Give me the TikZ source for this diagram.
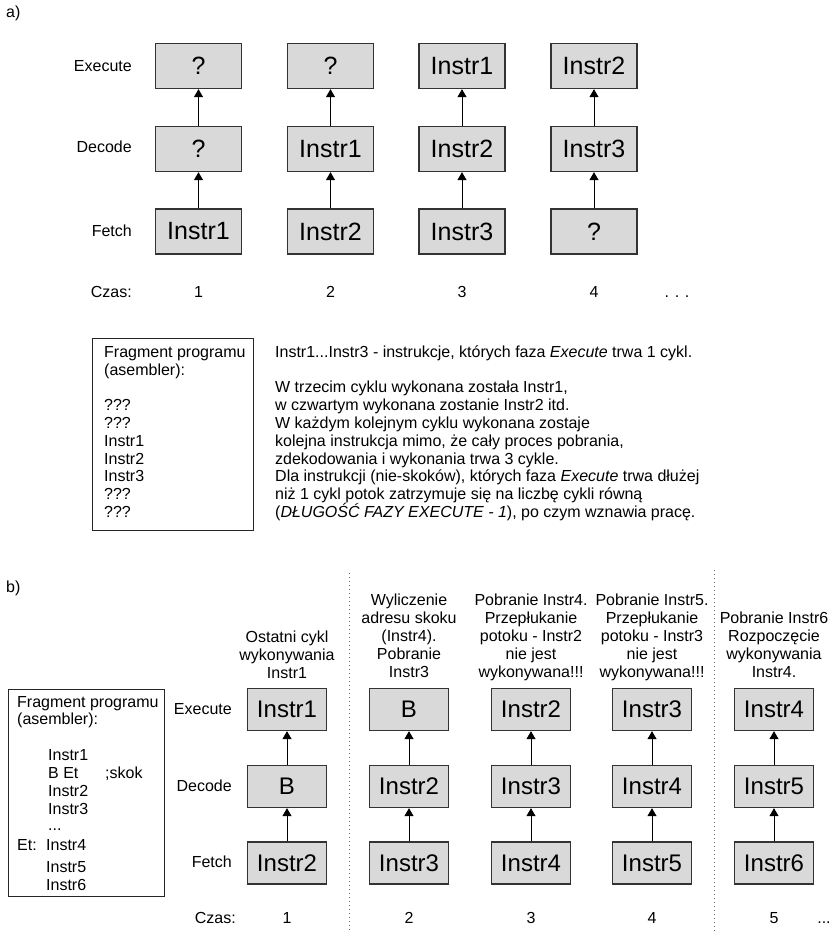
\documentclass[tikz,border=0pt]{standalone}
\usepackage{fontspec}
\setmainfont{Liberation Sans}
\usetikzlibrary{arrows.meta}

\begin{document}
\begin{tikzpicture}[x=1pt,y=-1pt,>={Triangle[length=8pt,width=9pt]},
  stagea/.style={draw=black!80,line width=1.3pt,fill=black!15,minimum width=86pt,minimum height=45pt,inner sep=0pt,font=\fontsize{25}{28}\selectfont},
  stageb/.style={draw=black!80,line width=1.3pt,fill=black!15,minimum width=79pt,minimum height=42pt,inner sep=0pt,font=\fontsize{24}{27}\selectfont},
  txt/.style={inner sep=0pt,font=\fontsize{16}{17.8}\selectfont},
  flow/.style={->,line width=1pt},
  progbox/.style={draw=black!85,line width=1pt,anchor=north west,inner sep=0pt},
  sepline/.style={draw=black!60,line width=1pt,dash pattern=on 1pt off 3pt}]
\path[use as bounding box,fill=white] (0,0) rectangle (831,935);
\node[txt,anchor=west] (alab) at (6,13) {a)};
\node[txt,anchor=east] (aexe) at (132,66) {Execute};
\node[txt,anchor=east] (adec) at (132,147) {Decode};
\node[txt,anchor=east] (afet) at (132,231) {Fetch};
\node[txt,anchor=east] (aczas) at (132,292) {Czas:};
\node[stagea] (a1e) at (198.5,66) {?};
\node[stagea] (a1d) at (198.5,149) {?};
\node[stagea] (a1f) at (198.5,231.5) {Instr1};
\draw[flow] (a1f.north)--(a1d.south);
\draw[flow] (a1d.north)--(a1e.south);
\node[stagea] (a2e) at (330.5,66) {?};
\node[stagea] (a2d) at (330.5,149) {Instr1};
\node[stagea] (a2f) at (330.5,231.5) {Instr2};
\draw[flow] (a2f.north)--(a2d.south);
\draw[flow] (a2d.north)--(a2e.south);
\node[stagea] (a3e) at (462,66) {Instr1};
\node[stagea] (a3d) at (462,149) {Instr2};
\node[stagea] (a3f) at (462,231.5) {Instr3};
\draw[flow] (a3f.north)--(a3d.south);
\draw[flow] (a3d.north)--(a3e.south);
\node[stagea] (a4e) at (594,66) {Instr2};
\node[stagea] (a4d) at (594,149) {Instr3};
\node[stagea] (a4f) at (594,231.5) {?};
\draw[flow] (a4f.north)--(a4d.south);
\draw[flow] (a4d.north)--(a4e.south);
\node[txt] (at1) at (198.5,292) {1};
\node[txt] (at2) at (330.5,292) {2};
\node[txt] (at3) at (462,292) {3};
\node[txt] (at4) at (594,292) {4};
\node[txt,anchor=base] (adots) at (677,297) {.\hspace{5.6pt}.\hspace{5.6pt}.};
\node[progbox,minimum width=161pt,minimum height=192pt] (aprog) at (92,338) {};
\node[txt,anchor=north west,align=left] (aprogtxt) at (104,346) {Fragment programu\\(asembler):\\[17.8pt]???\\???\\Instr1\\Instr2\\Instr3\\???\\???};
\node[txt,anchor=north west,align=left] (anote) at (275,345.3) {Instr1...Instr3 - instrukcje, których faza \textit{Execute} trwa 1 cykl.\\[17.8pt]W trzecim cyklu wykonana została Instr1,\\w czwartym wykonana zostanie Instr2 itd.\\W każdym kolejnym cyklu wykonana zostaje\\kolejna instrukcja mimo, że cały proces pobrania,\\zdekodowania i wykonania trwa 3 cykle.\\Dla instrukcji (nie-skoków), których faza \textit{Execute} trwa dłużej\\niż 1 cykl potok zatrzymuje się na liczbę cykli równą\\(\textit{DŁUGOŚĆ FAZY EXECUTE - 1}), po czym wznawia pracę.};
\node[txt,anchor=west] (blab) at (6,588) {b)};
\draw[sepline] (349,573)--(349,932);
\draw[sepline] (714,570)--(714,932);
\node[progbox,minimum width=156pt,minimum height=207pt] (bprog) at (8,689) {};
\node[txt,anchor=north west,align=left] (bprogtxt) at (17,695.8) {Fragment programu\\(asembler):};
\node[txt,anchor=base west] (bc1) at (48,760.5) {Instr1};
\node[txt,anchor=base west] (bc2) at (48,778.5) {B Et};
\node[txt,anchor=base west] (bc3) at (105,778.5) {;skok};
\node[txt,anchor=base west] (bc4) at (48,796.5) {Instr2};
\node[txt,anchor=base west] (bc5) at (48,814.5) {Instr3};
\node[txt,anchor=base west] (bc6) at (48,830) {...};
\node[txt,anchor=base west] (bc7) at (17,850.5) {Et:};
\node[txt,anchor=base west] (bc8) at (46,850.5) {Instr4};
\node[txt,anchor=base west] (bc9) at (46,872.5) {Instr5};
\node[txt,anchor=base west] (bc10) at (46,890.5) {Instr6};
\node[txt,anchor=east] (bexe) at (232,709) {Execute};
\node[txt,anchor=east] (bdec) at (232,786) {Decode};
\node[txt,anchor=east] (bfet) at (232,862) {Fetch};
\node[txt,anchor=east] (bczas) at (236,918) {Czas:};
\node[txt,anchor=north,align=center] (bn1) at (287,631) {Ostatni cykl\\wykonywania\\Instr1};
\node[stageb] (b1e) at (287,709.5) {Instr1};
\node[stageb] (b1d) at (287,786.5) {B};
\node[stageb] (b1f) at (287,863) {Instr2};
\draw[flow] (b1f.north)--(b1d.south);
\draw[flow] (b1d.north)--(b1e.south);
\node[txt,anchor=north,align=center] (bn2) at (409,594) {Wyliczenie\\adresu skoku\\(Instr4).\\Pobranie\\Instr3};
\node[stageb] (b2e) at (409,709.5) {B};
\node[stageb] (b2d) at (409,786.5) {Instr2};
\node[stageb] (b2f) at (409,863) {Instr3};
\draw[flow] (b2f.north)--(b2d.south);
\draw[flow] (b2d.north)--(b2e.south);
\node[txt,anchor=north,align=center] (bn3) at (531,594) {Pobranie Instr4.\\Przepłukanie\\potoku - Instr2\\nie jest\\wykonywana!!!};
\node[stageb] (b3e) at (531,709.5) {Instr2};
\node[stageb] (b3d) at (531,786.5) {Instr3};
\node[stageb] (b3f) at (531,863) {Instr4};
\draw[flow] (b3f.north)--(b3d.south);
\draw[flow] (b3d.north)--(b3e.south);
\node[txt,anchor=north,align=center] (bn4) at (652,594) {Pobranie Instr5.\\Przepłukanie\\potoku - Instr3\\nie jest\\wykonywana!!!};
\node[stageb] (b4e) at (652,709.5) {Instr3};
\node[stageb] (b4d) at (652,786.5) {Instr4};
\node[stageb] (b4f) at (652,863) {Instr5};
\draw[flow] (b4f.north)--(b4d.south);
\draw[flow] (b4d.north)--(b4e.south);
\node[txt,anchor=north,align=center] (bn5) at (774,612) {Pobranie Instr6\\Rozpoczęcie\\wykonywania\\Instr4.};
\node[stageb] (b5e) at (774,709.5) {Instr4};
\node[stageb] (b5d) at (774,786.5) {Instr5};
\node[stageb] (b5f) at (774,863) {Instr6};
\draw[flow] (b5f.north)--(b5d.south);
\draw[flow] (b5d.north)--(b5e.south);
\node[txt] (bt1) at (287,918) {1};
\node[txt] (bt2) at (409,918) {2};
\node[txt] (bt3) at (531,918) {3};
\node[txt] (bt4) at (652,918) {4};
\node[txt] (bt5) at (774,918) {5};
\node[txt,anchor=base] (bdots) at (824,923.5) {...};
\end{tikzpicture}
\end{document}
